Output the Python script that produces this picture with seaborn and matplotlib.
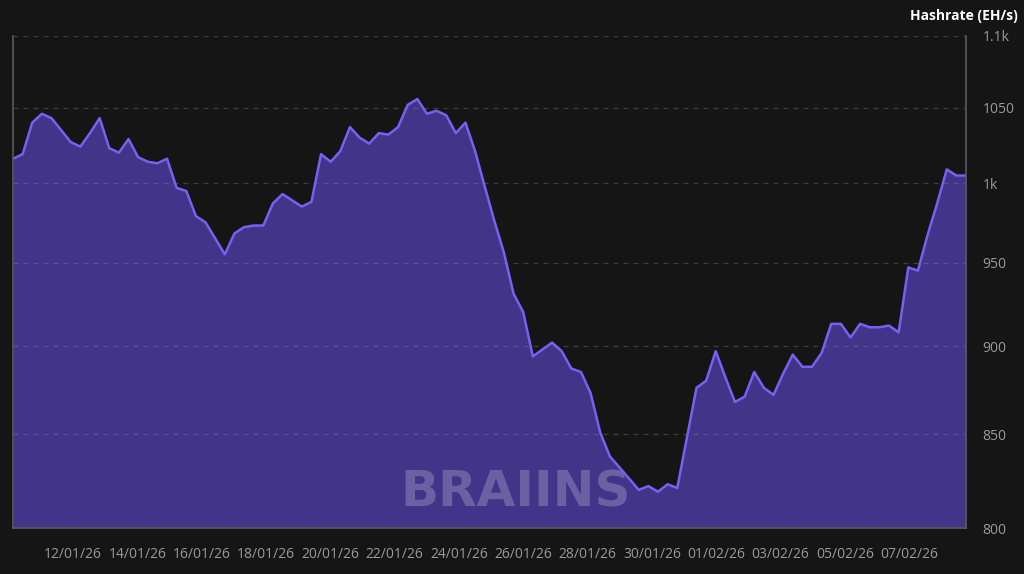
import pandas as pd
import numpy as np
import matplotlib
matplotlib.use("Agg")
import matplotlib.pyplot as plt
import matplotlib.dates as mdates
from matplotlib.ticker import FixedLocator, FixedFormatter, NullLocator
import seaborn as sns

# Hashrate readings (EH/s), evenly spaced over the period
start_time = "2026-01-10 03:15"
end_time = "2026-02-08 18:30"
hashrate = [1016, 1019, 1040, 1046, 1043, 1035, 1027, 1024, 1033, 1043,
            1023, 1020, 1029, 1017, 1014, 1013, 1016, 997, 995, 979,
            975, 965, 955, 968, 972, 973, 973, 987, 993, 989,
            985, 988, 1019, 1014, 1021, 1037, 1030, 1026, 1033, 1032,
            1037, 1052, 1056, 1046, 1048, 1045, 1033, 1040, 1021, 998,
            976, 956, 931, 920, 894, 898, 902, 897, 887, 885,
            873, 851, 838, 832, 826, 820, 822, 819, 823, 821,
            848, 876, 880, 897, 882, 868, 871, 885, 876, 872,
            884, 895, 888, 888, 896, 913, 913, 905, 913, 911,
            911, 912, 908, 947, 945, 967, 987, 1009, 1005, 1005]

y_ticks = [800, 850, 900, 950, 1000, 1050, 1100]
y_labels = ["800", "850", "900", "950", "1k", "1050", "1.1k"]
x_ticks = pd.date_range("2026-01-12", "2026-02-07", freq="2D")

df = pd.DataFrame({"time": pd.date_range(start_time, end_time, periods=len(hashrate)),
                   "hashrate": hashrate})

bg = "#151515"
sns.set_style("dark", {"axes.facecolor": bg, "figure.facecolor": bg})
plt.rcParams["font.family"] = ["Open Sans", "DejaVu Sans"]

fig = plt.figure(figsize=(10.24, 5.74), dpi=100)
ax = fig.add_axes([0.0127, 0.0801, 0.9307, 0.8572])
ax.set_facecolor(bg)

ax.fill_between(df["time"], df["hashrate"], 800, color="#423488", lw=0, zorder=1)
sns.lineplot(data=df, x="time", y="hashrate", ax=ax, color="#7761f0", lw=1.8, zorder=3)

ax.set_yscale("log")
ax.set_ylim(800, 1100)
ax.set_xlim(df["time"].iloc[0], df["time"].iloc[-1])

ax.yaxis.set_major_locator(FixedLocator(y_ticks))
ax.yaxis.set_major_formatter(FixedFormatter(y_labels))
ax.yaxis.set_minor_locator(NullLocator())
ax.yaxis.tick_right()
ax.tick_params(axis="y", length=0, pad=12, labelsize=10, labelcolor="#9a9a9a")

ax.set_xticks(x_ticks)
ax.xaxis.set_major_formatter(mdates.DateFormatter("%d/%m/%y"))
ax.tick_params(axis="x", length=8, width=1.2, color="#5a5a5a", pad=6,
               labelsize=10, labelcolor="#9a9a9a")

ax.grid(axis="y", color="#9a9a9a", alpha=0.3, ls=(0, (4, 4)), lw=0.9, zorder=2)
ax.grid(axis="x", visible=False)
ax.set_axisbelow(False)

for side in ["left", "bottom", "right"]:
    ax.spines[side].set_visible(True)
    ax.spines[side].set_color("#5a5a5a")
    ax.spines[side].set_linewidth(1.2)
    ax.spines[side].set_zorder(4)
ax.spines["top"].set_visible(False)

ax.set_xlabel("")
ax.set_ylabel("")

fig.text(0.994, 0.972, "Hashrate (EH/s)", ha="right", va="center",
         color="white", fontsize=10, fontweight="bold")

# watermark
ax.text(0.527, 0.072, "BRAIINS", transform=ax.transAxes, ha="center", va="center",
        color="white", alpha=0.22, fontsize=36, fontweight="bold",
        family="DejaVu Sans", zorder=2)

fig.savefig("out.png", dpi=100, facecolor=bg)
